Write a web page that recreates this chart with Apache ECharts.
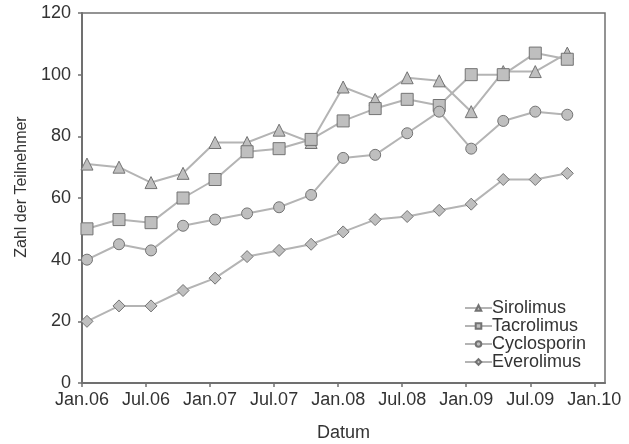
<!DOCTYPE html>
<html>
<head>
<meta charset="utf-8">
<script src="https://cdn.jsdelivr.net/npm/echarts@6/dist/echarts.min.js"></script>
<style>
  html, body { margin: 0; padding: 0; background: #fff; }
  #chart { width: 629px; height: 444px; }
</style>
</head>
<body>
<div id="chart"></div>
<script>
// Survey dates (quarterly, mid-month)
const dates = ['2006-01-15', '2006-04-15', '2006-07-15', '2006-10-15',
               '2007-01-15', '2007-04-15', '2007-07-15', '2007-10-15',
               '2008-01-15', '2008-04-15', '2008-07-15', '2008-10-15',
               '2009-01-15', '2009-04-15', '2009-07-15', '2009-10-15'];

const sirolimus   = [71, 70, 65, 68, 78, 78, 82, 78, 96, 92, 99, 98, 88, 101, 101, 107];
const tacrolimus  = [50, 53, 52, 60, 66, 75, 76, 79, 85, 89, 92, 90, 100, 100, 107, 105];
const cyclosporin = [40, 45, 43, 51, 53, 55, 57, 61, 73, 74, 81, 88, 76, 85, 88, 87];
const everolimus  = [20, 25, 25, 30, 34, 41, 43, 45, 49, 53, 54, 56, 58, 66, 66, 68];

const xTickLabels = ['Jan.06', 'Jul.06', 'Jan.07', 'Jul.07', 'Jan.08', 'Jul.08', 'Jan.09', 'Jul.09', 'Jan.10'];
const yTicks = [0, 20, 40, 60, 80, 100, 120];

// months elapsed since Jan 2006
function monthsSinceStart(d) {
  const [y, m, day] = d.split('-').map(Number);
  return (y - 2006) * 12 + (m - 1) + (day - 1) / 30;
}
const xValues = dates.map(monthsSinceStart);
const xTickValues = xTickLabels.map((_, i) => i * 6);

const TEXT = '#333';
const AXIS = '#707070';
const LINE = '#b4b4b4';
const FILL = '#bfbfbf';
const EDGE = '#737373';

function makeSeries(name, values, symbol, size) {
  return {
    name: name,
    type: 'line',
    data: values.map((v, i) => [xValues[i], v]),
    symbol: symbol,
    symbolSize: size,
    showAllSymbol: true,
    lineStyle: { color: LINE, width: 2 },
    itemStyle: { color: FILL, borderColor: EDGE, borderWidth: 1 },
    emphasis: { disabled: true },
    animation: false
  };
}

const chart = echarts.init(document.getElementById('chart'), null, { renderer: 'canvas' });
chart.setOption({
  backgroundColor: '#fff',
  animation: false,
  textStyle: { fontFamily: 'Liberation Sans, Arial, sans-serif' },
  grid: {
    left: 82, top: 13, right: 24, bottom: 61,
    outerBoundsMode: 'none',
    containLabel: false,
    show: true, borderColor: AXIS, borderWidth: 1.5, backgroundColor: 'transparent'
  },
  legend: {
    orient: 'vertical',
    left: 459, top: 294,
    itemWidth: 27, itemHeight: 7, itemGap: 0,
    textStyle: { color: TEXT, fontSize: 18, padding: [0, 0, 0, -5] },
    data: ['Sirolimus', 'Tacrolimus', 'Cyclosporin', 'Everolimus']
  },
  xAxis: {
    type: 'value',
    min: 0, max: 49,
    name: 'Datum',
    nameLocation: 'middle',
    nameGap: 41,
    nameTextStyle: { color: TEXT, fontSize: 18 },
    axisLine: { show: true, lineStyle: { color: AXIS, width: 2 } },
    axisTick: { show: true, inside: false, length: 4, customValues: xTickValues, lineStyle: { color: AXIS, width: 1.5 } },
    axisLabel: {
      color: TEXT, fontSize: 18, margin: 8,
      customValues: xTickValues,
      formatter: v => xTickLabels[Math.round(v / 6)]
    },
    splitLine: { show: false }
  },
  yAxis: {
    type: 'value',
    min: 0, max: 120, interval: 20,
    name: 'Zahl der Teilnehmer',
    nameLocation: 'middle',
    nameGap: 52,
    nameTextStyle: { color: TEXT, fontSize: 16, padding: [0, 0, 0, 22] },
    axisLine: { show: true, lineStyle: { color: AXIS, width: 2 } },
    axisTick: { show: true, inside: false, length: 4, lineStyle: { color: AXIS, width: 1.5 } },
    axisLabel: {
      color: TEXT, fontSize: 18, margin: 11,
      formatter: v => (yTicks.includes(v) ? String(v) : '')
    },
    splitLine: { show: false }
  },
  series: [
    makeSeries('Sirolimus', sirolimus, 'triangle', 12),
    makeSeries('Tacrolimus', tacrolimus, 'rect', 12),
    makeSeries('Cyclosporin', cyclosporin, 'circle', 11),
    makeSeries('Everolimus', everolimus, 'diamond', 12)
  ]
});
</script>
</body>
</html>
